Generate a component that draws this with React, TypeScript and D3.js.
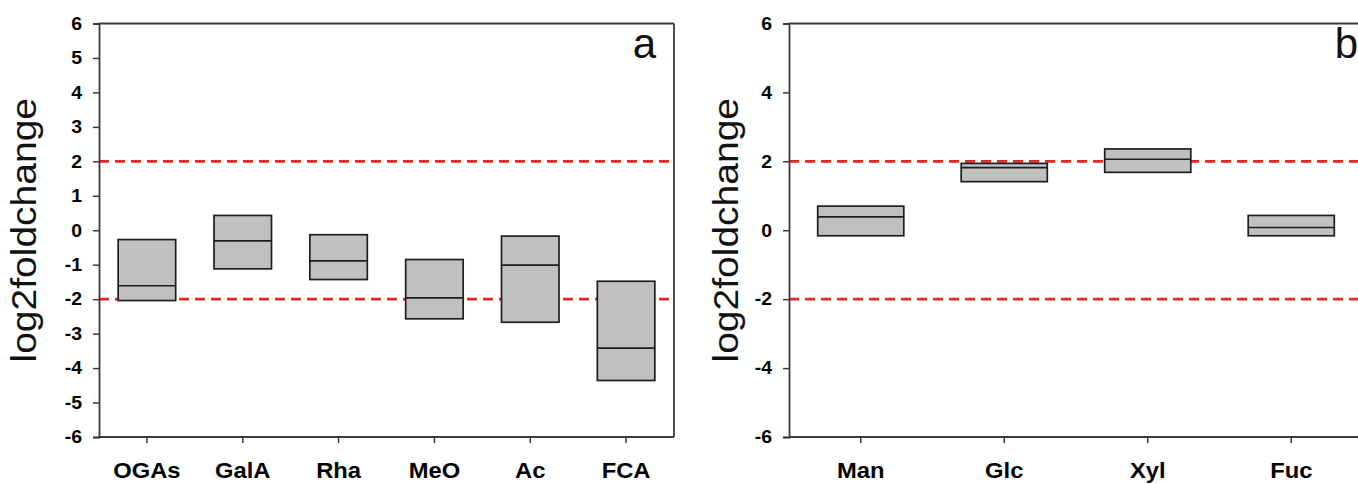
import React, { useRef, useEffect } from "react";
import * as d3 from "d3";

const catsA = ["OGAs", "GalA", "Rha", "MeO", "Ac", "FCA"];
const lowA = [-2.04, -1.12, -1.43, -2.57, -2.67, -4.36];
const medA = [-1.61, -0.31, -0.89, -1.96, -1.01, -3.42];
const highA = [-0.27, 0.43, -0.13, -0.85, -0.17, -1.48];

const catsB = ["Man", "Glc", "Xyl", "Fuc"];
const lowB = [-0.16, 1.41, 1.68, -0.16];
const medB = [0.39, 1.82, 2.06, 0.08];
const highB = [0.7, 1.94, 2.36, 0.43];

const ticksA = [-6, -5, -4, -3, -2, -1, 0, 1, 2, 3, 4, 5, 6];
const ticksB = [-6, -4, -2, 0, 2, 4, 6];
const thresholds = [2, -2];

const W = 1358;
const H = 484;
const FONT = "Liberation Sans, Arial, sans-serif";

const App = () => {
  const ref = useRef<SVGSVGElement>(null);

  useEffect(() => {
    const svg = d3.select(ref.current);
    svg.selectAll("*").remove();

    const drawPanel = (
      x0: number,
      x1: number,
      cats: string[],
      low: number[],
      med: number[],
      high: number[],
      ticks: number[],
      letter: string,
      letterX: number,
      titleX: number,
      fullFrame: boolean
    ) => {
      const top = 23.5;
      const bottom = 437;
      const y = d3.scaleLinear().domain([-6, 6]).range([bottom, top]);
      const x = d3
        .scaleBand()
        .domain(cats)
        .range([x0, x1])
        .paddingInner(0.4)
        .paddingOuter(0.2);
      const g = svg.append("g");
      const axisColor = "#3a3a3a";

      // dashed threshold lines
      thresholds.forEach((t) => {
        g.append("line")
          .attr("x1", x0)
          .attr("x2", x1)
          .attr("y1", y(t))
          .attr("y2", y(t))
          .attr("stroke", "#e8262b")
          .attr("stroke-width", 2.6)
          .attr("stroke-dasharray", "10,6");
      });

      // boxes
      cats.forEach((c, i) => {
        g.append("rect")
          .attr("x", x(c)!)
          .attr("y", y(high[i]))
          .attr("width", x.bandwidth())
          .attr("height", y(low[i]) - y(high[i]))
          .attr("fill", "#c0c0c0")
          .attr("stroke", "#1e1e1e")
          .attr("stroke-width", 1.7);
        g.append("line")
          .attr("x1", x(c)!)
          .attr("x2", x(c)! + x.bandwidth())
          .attr("y1", y(med[i]))
          .attr("y2", y(med[i]))
          .attr("stroke", "#1e1e1e")
          .attr("stroke-width", 1.7);
      });

      // frame
      g.append("line")
        .attr("x1", x0)
        .attr("x2", x1)
        .attr("y1", top)
        .attr("y2", top)
        .attr("stroke", axisColor)
        .attr("stroke-width", 1.8);
      if (fullFrame) {
        g.append("line")
          .attr("x1", x1)
          .attr("x2", x1)
          .attr("y1", top)
          .attr("y2", bottom)
          .attr("stroke", axisColor)
          .attr("stroke-width", 1.8);
      }

      // y axis
      const ya = g
        .append("g")
        .attr("transform", `translate(${x0},0)`)
        .call(d3.axisLeft(y).tickValues(ticks).tickSize(6).tickPadding(11).tickFormat(d3.format("d")));
      ya.select(".domain").attr("stroke", axisColor).attr("stroke-width", 1.8);
      ya.selectAll(".tick line").attr("stroke", axisColor).attr("stroke-width", 1.5);
      ya.selectAll(".tick text")
        .attr("fill", "#000")
        .attr("font-family", FONT)
        .attr("font-weight", "bold")
        .attr("font-size", 18)
        .attr("x", -17 / 1.08)
        .attr("transform", "scale(1.08,1)")
        .text((d: any) => String(d));

      // x axis
      const xa = g
        .append("g")
        .attr("transform", `translate(0,${bottom})`)
        .call(d3.axisBottom(x).tickSize(6).tickPadding(20));
      xa.select(".domain").attr("stroke", axisColor).attr("stroke-width", 1.8).attr("d", `M${x0},0H${x1}`);
      xa.selectAll(".tick line").attr("stroke", axisColor).attr("stroke-width", 1.5);
      xa.selectAll(".tick text")
        .attr("fill", "#000")
        .attr("font-family", FONT)
        .attr("font-weight", "bold")
        .attr("font-size", 22)
        .attr("y", 0)
        .attr("dy", 0)
        .attr("transform", "translate(0,41) scale(1.08,1)");

      // y title
      svg.append("text")
        .attr("transform", `translate(${titleX},${(top + bottom) / 2}) scale(0.9,1) rotate(-90)`)
        .attr("text-anchor", "middle")
        .attr("font-family", FONT)
        .attr("font-size", 39)
        .attr("fill", "#111")
        .text("log2foldchange");

      // panel letter
      svg.append("text")
        .attr("x", letterX)
        .attr("y", 58)
        .attr("text-anchor", "end")
        .attr("font-family", FONT)
        .attr("font-size", 42)
        .attr("fill", "#111")
        .text(letter);
    };

    drawPanel(99, 674, catsA, lowA, medA, highA, ticksA, "a", 656, 36, true);
    drawPanel(789, 1363, catsB, lowB, medB, highB, ticksB, "b", 1358, 738, false);
  }, []);

  return (
    <div style={{ position: "absolute", left: 0, top: 0 }}>
      <svg width={W} height={H} ref={ref} style={{ display: "block", background: "#fff" }}></svg>
    </div>
  );
};

export default App;
